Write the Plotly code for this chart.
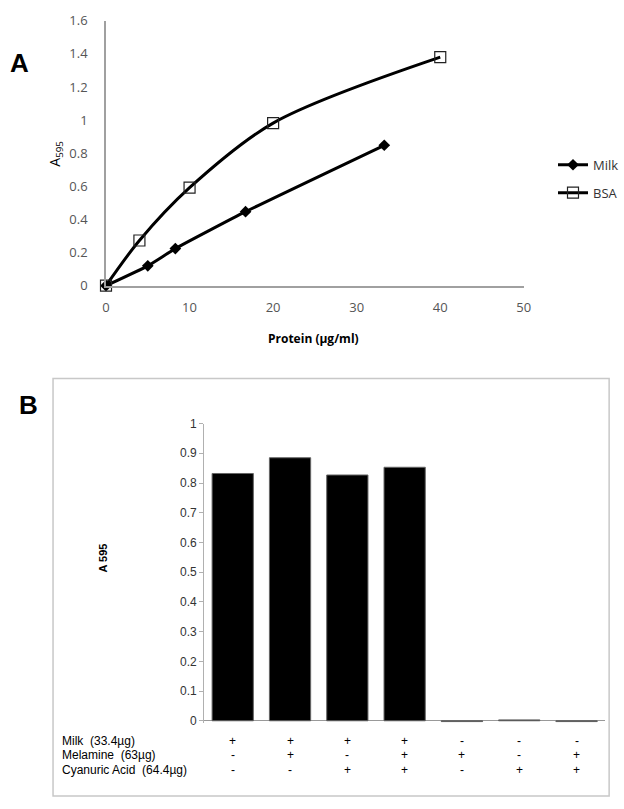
import plotly.graph_objects as go

# ---- Panel A data ----
milk_x = [0, 5, 8.3, 16.7, 33.3]
milk_y = [0, 0.12, 0.224, 0.447, 0.848]
bsa_x = [0, 4, 10, 20, 40]
bsa_y = [0, 0.273, 0.592, 0.982, 1.38]

# ---- Panel B data ----
categories = ["c1", "c2", "c3", "c4", "c5", "c6", "c7"]
a595 = [0.832, 0.885, 0.827, 0.853, -0.003, 0.003, -0.003]
row_labels = ["Milk  (33.4µg)", "Melamine  (63µg)", "Cyanuric Acid  (64.4µg)"]
milk_row = ["+", "+", "+", "+", "-", "-", "-"]
melamine_row = ["-", "+", "-", "+", "+", "-", "+"]
cyanuric_row = ["-", "-", "+", "+", "-", "+", "+"]

W, H = 624, 809
def px(x):
    return x / W
def py(y):
    return 1 - y / H

fig = go.Figure()

fig.add_trace(go.Scatter(
    x=milk_x, y=milk_y, name="Milk", mode="lines+markers", legendgroup="milk",
    line=dict(color="black", width=3, shape="spline", smoothing=0.4),
    marker=dict(symbol="diamond", size=9, color="black"),
    cliponaxis=False, xaxis="x", yaxis="y"))
fig.add_trace(go.Scatter(
    x=bsa_x, y=bsa_y, name="BSA", mode="lines+markers", legendgroup="bsa",
    line=dict(color="black", width=3, shape="spline", smoothing=0.9),
    marker=dict(symbol="square-open", size=11, color="#222222", line=dict(width=1.2)),
    cliponaxis=False, xaxis="x", yaxis="y"))

fig.add_trace(go.Bar(
    x=categories, y=a595, marker=dict(color="black", line=dict(color="#666666", width=1)),
    showlegend=False, xaxis="x2", yaxis="y2"))

def ann(text, x, y, size, family="Liberation Sans", angle=0, xanchor="center", xref="paper", color="black"):
    return dict(text=text, x=x, y=y, xref=xref, yref="paper", textangle=angle,
                xanchor=xanchor, yanchor="middle", showarrow=False,
                font=dict(family=family, size=size, color=color))

annotations = [
    ann("<b>A</b>", px(16), py(55), 26),
    ann("<b>B</b>", px(25), py(405), 26),
    ann("A<sub>595</sub>", px(53), py(148), 14, family="Open Sans", angle=-90),
    ann("<b>Protein (µg/ml)</b>", px(316), py(337), 12, family="Open Sans"),
    ann("<b>A 595</b>", px(101), py(562), 11, angle=-90),
]
row_y = [749, 763, 778]
for lab, yy in zip(row_labels, row_y):
    annotations.append(ann(lab, px(57), py(yy), 12, xanchor="left"))
for row, yy in zip([milk_row, melamine_row, cyanuric_row], row_y):
    for c, s in zip(categories, row):
        annotations.append(ann(s, c, py(yy), 12, xref="x2"))

fig.update_layout(
    width=W, height=H,
    margin=dict(l=0, r=0, t=0, b=0),
    paper_bgcolor="white", plot_bgcolor="white",
    showlegend=True,
    legend=dict(x=px(560), y=py(144), xanchor="left", yanchor="top",
                font=dict(family="Open Sans", size=13, color="#333333"),
                itemwidth=30, tracegroupgap=8, bgcolor="rgba(0,0,0,0)"),
    xaxis=dict(domain=[px(104), px(530)], range=[0, 50], dtick=10,
               showgrid=False, zeroline=False, showline=True, linecolor="#a0a0a0", linewidth=1.5,
               ticks="", ticklabelstandoff=9,
               tickfont=dict(family="Open Sans", size=13, color="#555555"), anchor="y"),
    yaxis=dict(domain=[py(283), py(12)], range=[0, 1.6], dtick=0.2,
               showgrid=False, zeroline=False, showline=True, linecolor="#a0a0a0", linewidth=1.5,
               ticks="", ticklabelstandoff=14,
               tickfont=dict(family="Open Sans", size=13, color="#555555"), anchor="x"),
    xaxis2=dict(domain=[px(204), px(613)], showticklabels=False, showgrid=False,
                zeroline=False, showline=False, ticks="", anchor="y2"),
    yaxis2=dict(domain=[py(729.8), py(424)], range=[-0.006, 1.0], dtick=0.1,
                showgrid=False, zeroline=True, zerolinecolor="#999999", zerolinewidth=1,
                showline=True, linecolor="#b0b0b0", linewidth=1,
                ticks="outside", ticklen=4, tickcolor="#b0b0b0",
                tickfont=dict(family="Liberation Sans", size=12, color="#333333"), anchor="x2"),
    bargap=0.28,
    annotations=annotations,
    shapes=[dict(type="rect", xref="paper", yref="paper",
                 x0=px(50), x1=px(617), y0=py(805), y1=py(378),
                 line=dict(color="#c8c8c8", width=1.5))],
)

fig.write_html("out.html", config={"displayModeBar": False},
               post_script="document.body.style.margin='0';document.body.style.overflow='hidden';")
